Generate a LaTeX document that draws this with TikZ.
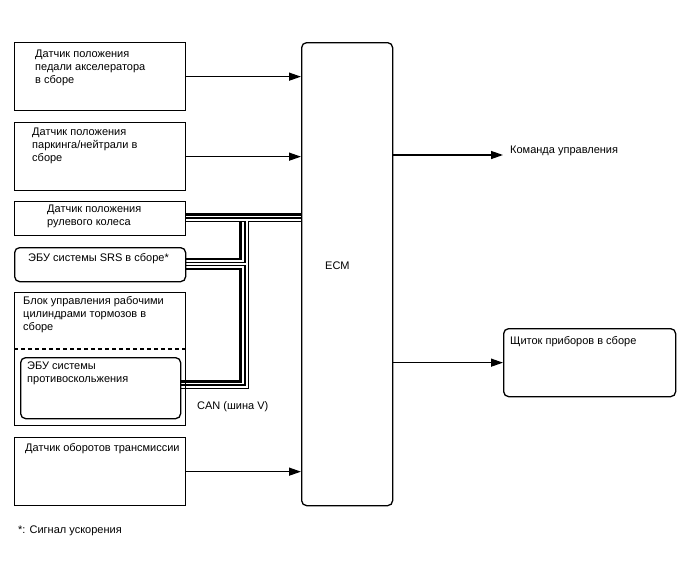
\documentclass[tikz,border=0pt]{standalone}
\usepackage{fontspec}
\setmainfont{Liberation Sans}
\usetikzlibrary{arrows.meta}
\pgfdeclarelayer{bg}
\pgfsetlayers{bg,main}
\begin{document}
\begin{tikzpicture}[x=1pt,y=-1pt,
  box/.style={draw,line width=1.3pt,inner sep=0pt,anchor=north west},
  rbox/.style={box,rounded corners=5pt},
  txt/.style={anchor=base west,inner sep=0pt,align=left,font=\fontsize{11}{13}\selectfont},
  arr/.style={line width=1.3pt,-{Triangle[length=12pt,width=8pt]}},
  thk/.style={line width=2.4pt},
  dblout/.style={line width=4.4pt,black},
  dblin/.style={line width=2pt,white},
]
\useasboundingbox (0,0) rectangle (688,560);

% boxes
\node[box,minimum width=171pt,minimum height=68pt] (acc) at (14,42) {};
\node[box,minimum width=171pt,minimum height=68pt] (park) at (14,122) {};
\node[box,minimum width=171pt,minimum height=34pt] (steer) at (14,201) {};
\node[rbox,minimum width=171pt,minimum height=34pt] (srs) at (14,247) {};
\node[box,minimum width=171pt,minimum height=133pt] (brake) at (14,292) {};
\node[rbox,minimum width=160pt,minimum height=61pt] (abs) at (20,357) {};
\node[box,minimum width=171pt,minimum height=68pt] (trans) at (14,437) {};
\node[rbox,minimum width=91pt,minimum height=463pt] (ecm) at (301,42) {};
\node[rbox,minimum width=172pt,minimum height=68pt] (inst) at (503,328) {};

% texts (base anchor = baseline of the last line)
\node[txt] (accT) at (35,83) {Датчик положения\\педали акселератора\\в сборе};
\node[txt] (parkT) at (32,161) {Датчик положения\\паркинга/нейтрали в\\сборе};
\node[txt] (steerT) at (47,225) {Датчик положения\\рулевого колеса};
\node[txt] (srsT) at (28,261) {ЭБУ системы SRS в сборе*};
\node[txt] (brakeT) at (23,330) {Блок управления рабочими\\цилиндрами тормозов в\\сборе};
\node[txt] (absT) at (27,382) {ЭБУ системы\\противоскольжения};
\node[txt] (transT) at (25,451) {Датчик оборотов трансмиссии};
\node[txt] (ecmT) at (325,269) {ECM};
\node[txt] (cmdT) at (510,153) {Команда управления};
\node[txt] (instT) at (510,344) {Щиток приборов в сборе};
\node[txt] (canT) at (197,409) {CAN (шина V)};
\node[txt] (noteT) at (18,533) {*: Сигнал ускорения};

% dashed separator
\draw[line width=1.3pt,dash pattern=on 4pt off 3pt] (brake.west |- 0,349) -- (brake.east |- 0,349);

% arrows
\draw[arr] (acc.east) -- (acc.east -| ecm.west);
\draw[arr] (park.east) -- (park.east -| ecm.west);
\draw[arr] (trans.east) -- (trans.east -| ecm.west);
\coordinate (cmdpt) at (503,155);
\draw[arr] (ecm.east |- cmdpt) -- (cmdpt);
\draw[arr] (ecm.east |- inst.west) -- (inst.west);

% CAN bus
\begin{pgfonlayer}{bg}
\draw[thk] (ecm.west |- 0,214.5) -- (steer.east |- 0,214.5);
\draw[thk] (240.5,219) -- (240.5,259) -- (srs.east |- 0,259);
\draw[thk] (srs.east |- 0,269) -- (240.5,269) -- (240.5,381.5) -- (abs.east |- 0,381.5);
\foreach \s in {dblout,dblin}{
  \draw[\s] (ecm.west |- 0,219.5) -- (steer.east |- 0,219.5);
  \draw[\s] (246.5,219.5) -- (246.5,386.5) -- (abs.east |- 0,386.5);
  \draw[\s] (srs.east |- 0,264) -- (246.5,264);
}
\end{pgfonlayer}
\end{tikzpicture}
\end{document}
